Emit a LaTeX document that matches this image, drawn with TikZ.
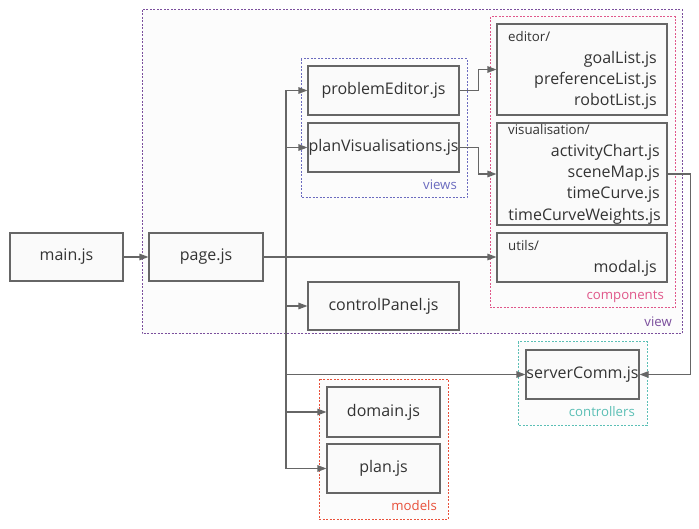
\documentclass[tikz,border=0pt]{standalone}
\usepackage{fontspec}
\setmainfont{Open Sans}
\usetikzlibrary{arrows.meta}
\definecolor{boxline}{HTML}{666666}
\definecolor{boxfill}{HTML}{FAFAFA}
\definecolor{clfill}{HTML}{FCFCFC}
\definecolor{txt}{HTML}{333333}
\definecolor{viewc}{HTML}{7B4F9D}
\definecolor{viewsc}{HTML}{6B6BBF}
\definecolor{compc}{HTML}{E0578A}
\definecolor{ctrlc}{HTML}{5BBFB5}
\definecolor{modc}{HTML}{E8503A}
\begin{document}
\begin{tikzpicture}[x=1pt,y=-1pt,
  file/.style={draw=boxline, fill=boxfill, line width=1.1pt, rectangle, inner sep=0pt, text=txt, font=\fontsize{16}{19}\selectfont},
  small/.style={text=txt, inner sep=0pt, font=\fontsize{13.3}{15}\selectfont},
  item/.style={text=txt, inner sep=0pt, anchor=base east, font=\fontsize{16}{19}\selectfont},
  cl/.style={line width=1pt, dash pattern=on 2pt off 1.5pt, fill=clfill},
  cllbl/.style={inner sep=0pt, anchor=base east, font=\fontsize{13.2}{15}\selectfont},
  arr/.style={draw=boxline, line width=1.1pt, -{Triangle[length=9pt,width=6.5pt]}},
  ]
\useasboundingbox (0,0) rectangle (699,529);
% clusters
\draw[cl, draw=viewc] (142,10) rectangle (682,334);
\node[cllbl, text=viewc] (viewlbl) at (672,327) {view};
\draw[cl, draw=viewsc] (301,59) rectangle (467,198);
\node[cllbl, text=viewsc] (viewslbl) at (457,190) {views};
\draw[cl, draw=compc] (490,17) rectangle (675,308);
\node[cllbl, text=compc] (complbl) at (664,300) {components};
\draw[cl, draw=ctrlc] (518,342) rectangle (647,425);
\node[cllbl, text=ctrlc] (ctrllbl) at (635,416) {controllers};
\draw[cl, draw=modc] (319,379) rectangle (448,519);
\node[cllbl, text=modc] (modlbl) at (437,510) {models};
% files
\node[file, minimum width=113pt, minimum height=48pt] (main) at (66.5,257) {main.js};
\node[file, minimum width=114pt, minimum height=48pt] (page) at (206,257) {page.js};
\node[file, minimum width=151pt, minimum height=49pt] (pe) at (383.5,90.5) {problemEditor.js};
\node[file, minimum width=151pt, minimum height=49pt] (pv) at (383.5,147.5) {planVisualisations.js};
\node[file, minimum width=151pt, minimum height=48pt] (cp) at (383.5,306) {controlPanel.js};
\node[file, minimum width=170pt, minimum height=91pt] (editor) at (582,69.5) {};
\node[small, anchor=base west] (edl) at (508,42) {editor/};
\node[item] (gl) at (657,63.5) {goalList.js};
\node[item] (pl) at (657,84.5) {preferenceList.js};
\node[item] (rl) at (657,106) {robotList.js};
\node[file, minimum width=170pt, minimum height=102pt] (vis) at (582,174) {};
\node[small, anchor=base west] (visl) at (508,135) {visualisation/};
\node[item] (ac) at (660,156.5) {activityChart.js};
\node[item] (sm) at (660,177.5) {sceneMap.js};
\node[item] (tc) at (660,199) {timeCurve.js};
\node[item] (tcw) at (661,221) {timeCurveWeights.js};
\node[file, minimum width=170pt, minimum height=49pt] (utils) at (582,257.5) {};
\node[small, anchor=base west] (utl) at (508,251) {utils/};
\node[item] (md) at (657,272.5) {modal.js};
\node[file, minimum width=113pt, minimum height=49pt] (server) at (582.5,374.5) {serverComm.js};
\node[file, minimum width=113pt, minimum height=50pt] (domain) at (383.5,412) {domain.js};
\node[file, minimum width=113pt, minimum height=49pt] (plan) at (383.5,468.5) {plan.js};
% connectors
\coordinate (tk) at (286,0);
\draw[arr] (main.east) -- (page.west);
\draw[arr] (page.east) -- (page.east -| tk) |- (pe.west);
\draw[arr] (page.east) -- (page.east -| tk) |- (pv.west);
\draw[arr] (page.east) -- (page.east -| utils.west);
\draw[arr] (page.east) -- (page.east -| tk) |- (cp.west);
\draw[arr] (page.east) -- (page.east -| tk) |- (server.west);
\draw[arr] (page.east) -- (page.east -| tk) |- (domain.west);
\draw[arr] (page.east) -- (page.east -| tk) |- (plan.west);
\draw[arr] (pe.east) -- ++(19,0) |- (editor.west);
\draw[arr] (pv.east) -- ++(19,0) |- (vis.west);
\draw[arr] (vis.east) -- ++(23,0) |- (server.east);
\end{tikzpicture}
\end{document}
